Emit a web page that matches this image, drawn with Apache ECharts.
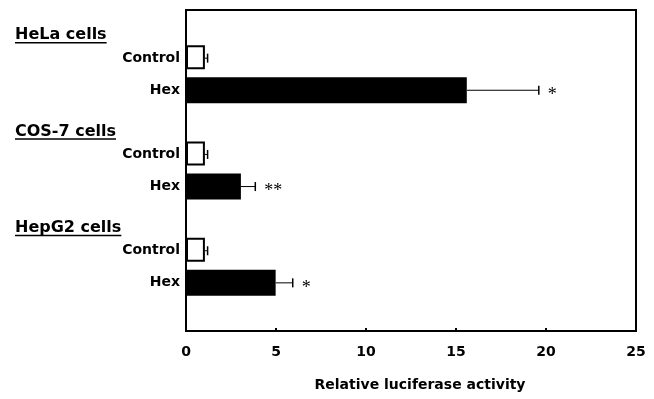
<!DOCTYPE html>
<html>
<head>
<meta charset="utf-8">
<script src="https://cdn.jsdelivr.net/npm/echarts@6/dist/echarts.min.js"></script>
<style>
html,body{margin:0;padding:0;background:#fff;}
#chart{width:654px;height:399px;}
</style>
</head>
<body>
<div id="chart"></div>
<script>
// ---- data ----
const groups = ['HeLa cells', 'COS-7 cells', 'HepG2 cells'];
const conditions = ['Control', 'Hex'];
const controlMean = [1.05, 1.05, 1.05];
const controlErr = [0.15, 0.15, 0.15];
const hexMean = [15.6, 3.05, 4.98];
const hexErr = [4.0, 0.8, 0.95];
const hexSig = ['*', '**', '*'];
const xTicks = [0, 5, 10, 15, 20, 25];
const xTitle = 'Relative luciferase activity';

// rows: header, Control, Hex per group + one blank row
const rowLabels = [];
groups.forEach(g => { rowLabels.push(''); conditions.forEach(c => rowLabels.push(c)); });
rowLabels.push('');
const rowKeys = rowLabels.map((_, i) => String(i));

const controlData = rowLabels.map(() => null);
const hexData = rowLabels.map(() => null);
const errData = [];
groups.forEach((g, i) => {
  const ci = 3 * i + 1, hi = 3 * i + 2;
  controlData[ci] = controlMean[i];
  hexData[hi] = hexMean[i];
  errData.push([controlMean[i], ci, controlErr[i], '']);
  errData.push([hexMean[i], hi, hexErr[i], hexSig[i]]);
});

const FONT = 'DejaVu Sans';
const chart = echarts.init(document.getElementById('chart'), null, {renderer: 'canvas'});

const option = {
  animation: false,
  backgroundColor: '#fff',
  grid: {left: 186, right: 18, top: 10, bottom: 68, show: true, borderColor: '#000', borderWidth: 2, backgroundColor: 'transparent'},
  xAxis: {
    type: 'value', min: xTicks[0], max: xTicks[xTicks.length - 1], interval: xTicks[1] - xTicks[0],
    axisLine: {show: false},
    axisTick: {show: true, inside: true, length: 3, lineStyle: {color: '#000', width: 2}},
    splitLine: {show: false},
    axisLabel: {color: '#000', fontFamily: FONT, fontWeight: 'bold', fontSize: 14, margin: 14},
    name: xTitle, nameLocation: 'middle', nameGap: 47,
    nameTextStyle: {color: '#000', fontFamily: FONT, fontWeight: 'bold', fontSize: 14, padding: [0, 0, 0, 18]}
  },
  yAxis: {
    type: 'category', inverse: true, data: rowKeys,
    axisLine: {show: false}, axisTick: {show: false}, splitLine: {show: false},
    axisLabel: {color: '#000', fontFamily: FONT, fontWeight: 'bold', fontSize: 14, margin: 6,
      formatter: v => rowLabels[+v]}
  },
  series: [
    {type: 'bar', name: 'Control', data: controlData, barWidth: 24, barGap: '-100%',
      itemStyle: {color: '#fff', borderColor: '#000', borderWidth: 2}, z: 3},
    {type: 'bar', name: 'Hex', data: hexData, barWidth: 26, barGap: '-100%',
      itemStyle: {color: '#000'}, z: 3},
    {type: 'custom', name: 'err', data: errData, encode: {x: 0, y: 1}, z: 4,
      renderItem: function (params, api) {
        const v = api.value(0), idx = api.value(1), e = api.value(2);
        const sig = errData[params.dataIndex][3];
        const s = api.coord([v, idx]);
        const t = api.coord([v + e, idx]);
        const h = 9;
        const children = [
          {type: 'line', shape: {x1: s[0], y1: s[1], x2: t[0], y2: t[1]}, style: {stroke: '#000', lineWidth: 1}},
          {type: 'line', shape: {x1: t[0], y1: t[1] - h / 2, x2: t[0], y2: t[1] + h / 2}, style: {stroke: '#000', lineWidth: 1.5}}
        ];
        if (sig) {
          children.push({type: 'text', style: {text: sig, x: t[0] + 9, y: t[1] + 5,
            font: '18px "Liberation Serif"', fill: '#000', textAlign: 'left', textVerticalAlign: 'middle'}});
        }
        return {type: 'group', children};
      }
    }
  ]
};
chart.setOption(option);

// group headers (underlined)
const ctx = document.createElement('canvas').getContext('2d');
const headFont = 'bold 16px "' + FONT + '"';
ctx.font = headFont;
const graphics = [];
groups.forEach((g, i) => {
  const p = chart.convertToPixel({yAxisIndex: 0}, String(3 * i));
  const y = p + 9;
  const w = ctx.measureText(g).width;
  graphics.push({type: 'text', left: 15, top: y - 8, style: {text: g, font: headFont, fill: '#000'}});
  graphics.push({type: 'rect', shape: {x: 15, y: y + 7, width: w, height: 1.5}, style: {fill: '#000'}});
});
chart.setOption({graphic: graphics});
</script>
</body>
</html>
